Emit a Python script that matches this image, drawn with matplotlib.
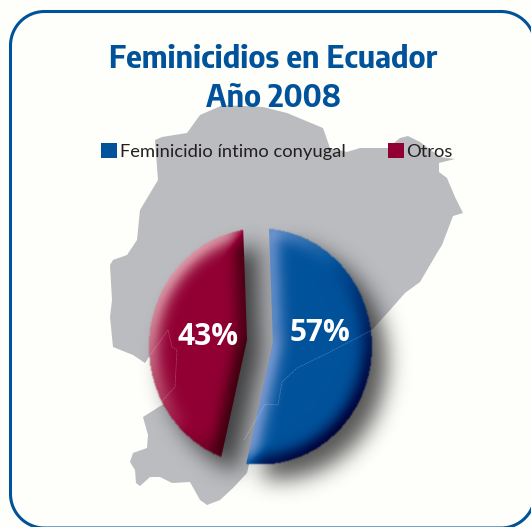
import matplotlib
matplotlib.use("Agg")
import matplotlib.pyplot as plt
import numpy as np
from matplotlib.colors import to_rgb
from matplotlib.patches import Ellipse, Polygon, Rectangle

W, H = 531, 527

title_lines = ["Feminicidios en Ecuador", "Año 2008"]
categories = ["Feminicidio íntimo conyugal", "Otros"]
share_labels = ["57%", "43%"]
# shares as the slices are actually drawn in the picture (not the printed percentages)
drawn_shares = [54, 46]
colors = ["#00529b", "#920033"]
highlights = [(0.60, 0.68, 0.88), (0.90, 0.68, 0.72)]
darks = [(0.0, 0.0, 0.22), (0.20, 0.0, 0.04)]

# map outline, in image pixels (y down)
map_x = [187, 200, 223, 263, 287, 323, 330, 347, 360, 388, 400, 408, 420, 440, 455, 439, 439, 447, 455, 463,
         453, 442, 437, 420, 405, 390, 372, 300, 250, 247, 233, 220, 207, 200, 190, 172, 160, 150, 140, 136,
         135, 130, 133, 147, 148, 143, 162, 200, 149, 145, 133, 113, 110, 112, 110, 113, 127, 137, 140, 158,
         155, 162]
map_y = [133, 115, 105, 107, 113, 128, 148, 152, 148, 148, 138, 136, 142, 157, 159, 163, 172, 178, 197, 213,
         216, 245, 253, 282, 293, 310, 330, 400, 460, 473, 488, 500, 505, 500, 482, 483, 477, 477, 486, 483,
         470, 462, 453, 448, 435, 417, 405, 380, 357, 363, 355, 347, 317, 300, 265, 260, 255, 240, 210, 180,
         140, 137]
border_blue_x = [372, 330, 297, 282, 278, 265, 253, 244]
border_blue_y = [330, 352, 368, 382, 405, 404, 425, 440]
border_red_x = [148, 168, 172, 177, 175, 158]
border_red_y = [358, 330, 347, 350, 387, 405]


def blur(a, sigma):
    r = int(3 * sigma)
    k = np.exp(-0.5 * (np.arange(-r, r + 1) / sigma) ** 2)
    k = k / k.sum()
    a = np.apply_along_axis(lambda m: np.convolve(m, k, mode="same"), 0, a)
    a = np.apply_along_axis(lambda m: np.convolve(m, k, mode="same"), 1, a)
    return a


def flip(ys):
    return H - np.asarray(ys, dtype=float)


def rounded_outline(x0, y0, x1, y1, r):
    t = np.linspace(0, np.pi / 2, 30)
    xs = np.concatenate([x1 - r + r * np.sin(t), x1 - r + r * np.cos(t), x0 + r - r * np.sin(t), x0 + r - r * np.cos(t)])
    ys = np.concatenate([y1 - r + r * np.cos(t), y0 + r - r * np.sin(t), y0 + r - r * np.cos(t), y1 - r + r * np.sin(t)])
    return np.append(xs, xs[0]), np.append(ys, ys[0])


fig = plt.figure(figsize=(W / 100, H / 100), dpi=100, facecolor="#fefefb")
ax = fig.add_axes([0, 0, 1, 1])
ax.set_facecolor("#fefefb")
ax.set_xlim(0, W)
ax.set_ylim(0, H)

ax.add_patch(Polygon(np.column_stack([map_x, flip(map_y)]), closed=True, fc="#bbbcc0", ec="none", zorder=1))

# panel border
bx, by = rounded_outline(10.5, flip(528), 535, flip(11.5), 34)
ax.plot(bx, by, color="#00529b", lw=2.2, zorder=8)

# big wedges, the visible part is the image below that they clip
cx, cy = 260.5, flip(346.5)
wedges, _ = ax.pie(drawn_shares, colors=colors, startangle=92, counterclock=False,
                   center=(260, flip(341)), radius=200, explode=[13, 13], frame=True,
                   wedgeprops={"linewidth": 0, "zorder": 3})
ax.set_xlim(0, W)
ax.set_ylim(0, H)
ax.set_xticks([])
ax.set_yticks([])
for s in ax.spines.values():
    s.set_visible(False)

disc = Ellipse((cx, cy), 223, 236, transform=ax.transData)
disc_path = disc.get_transform().transform_path(disc.get_path())
yy, xx = np.mgrid[0:H, 0:W]
pts = np.column_stack([xx.ravel() + 0.5, H - yy.ravel() - 0.5])
disc_mask = disc_path.contains_points(pts).reshape(H, W).astype(float)
disc_soft = np.clip(blur(disc_mask, 0.7), 0, 1)

union = np.zeros((H, W))
masks = []
for w in wedges:
    p = w.get_transform().transform_path(w.get_path())
    m = p.contains_points(pts).reshape(H, W).astype(float) * disc_mask
    masks.append(m)
    union = union + m

# drop shadow
sh = blur(np.roll(np.roll(union, 15, axis=0), 15, axis=1), 11)
rgba = np.zeros((H, W, 4))
rgba[..., 3] = np.clip(sh * 0.66, 0, 1)
ax.imshow(rgba, extent=(0, W, 0, H), origin="upper", aspect="auto", zorder=2, interpolation="bilinear")

# flat colour plus a bevel on each slice
sigma = 8
for w, m, col, hl, dk in zip(wedges, masks, colors, highlights, darks):
    w.set_facecolor("none")
    b = blur(m, sigma)
    gy, gx = np.gradient(b)
    n = (gx + gy) / np.sqrt(2) * sigma * 2.5
    light = np.clip(n, 0, 1) ** 0.9 * 0.85
    shade = np.clip(-n, 0, 1) ** 0.9 * 0.95
    img = np.zeros((H, W, 4))
    for i in range(3):
        tint = np.where(n > 0, hl[i], dk[i])
        a = np.where(n > 0, light, shade)
        img[..., i] = to_rgb(col)[i] * (1 - a) + tint * a
    img[..., 3] = disc_soft
    im = ax.imshow(img, extent=(0, W, 0, H), origin="upper", aspect="auto", zorder=4, interpolation="bilinear")
    im.set_clip_path(w)

ax.set_xlim(0, W)
ax.set_ylim(0, H)

# faint map borders showing through the pie
ax.plot(border_blue_x, flip(border_blue_y), color="white", alpha=0.3, lw=0.5, ls=(0, (2, 1)), zorder=5)
ax.plot(border_red_x, flip(border_red_y), color="white", alpha=0.3, lw=0.5, ls=(0, (2, 1)), zorder=5)

title_font = ["Encode Sans Semi Condensed", "Asap Condensed", "Liberation Sans"]
ax.text(273, flip(68), title_lines[0], family=title_font, weight="bold", fontsize=22, color="#00529b",
        ha="center", va="baseline", zorder=7)
ax.text(273, flip(107), title_lines[1], family=title_font, weight="bold", fontsize=22, color="#00529b",
        ha="center", va="baseline", zorder=7)

# legend
ax.add_patch(Rectangle((101, flip(158)), 16, 15, fc=colors[0], ec="none", zorder=7))
ax.text(120, flip(157), categories[0], family="Lato", fontsize=13.2, color="#231f20", va="baseline", zorder=7)
ax.add_patch(Rectangle((388, flip(158)), 16, 15, fc=colors[1], ec="none", zorder=7))
ax.text(406, flip(157), categories[1], family="Lato", fontsize=13.2, color="#231f20", va="baseline", zorder=7)

ax.text(319.5, flip(341), share_labels[0], family="Open Sans", weight="bold", fontsize=21.5, color="white",
        ha="center", va="baseline", zorder=7)
ax.text(208.5, flip(345), share_labels[1], family="Open Sans", weight="bold", fontsize=21.5, color="white",
        ha="center", va="baseline", zorder=7)

fig.savefig("out.png", dpi=100, facecolor=fig.get_facecolor())
plt.close(fig)
